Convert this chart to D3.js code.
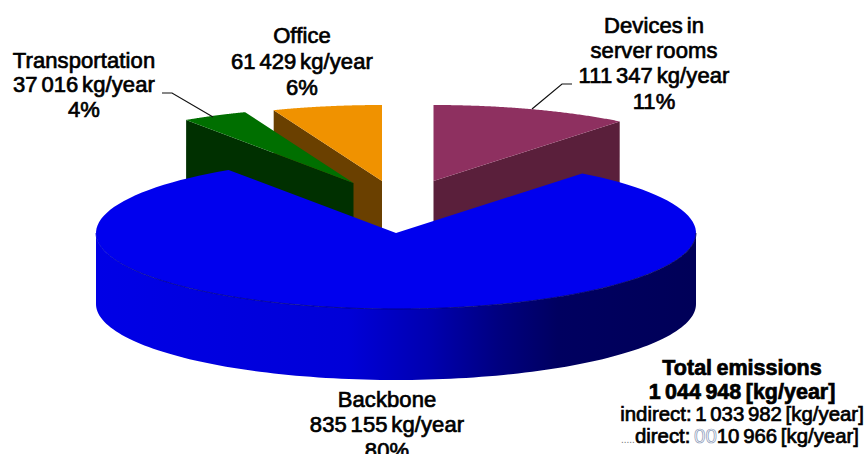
<!DOCTYPE html>
<html>
<head>
<meta charset="utf-8">
<script src="https://cdn.jsdelivr.net/npm/d3@7"></script>
<style>
  html, body { margin: 0; padding: 0; background: #fff; overflow: hidden; }
  svg { display: block; }
  text { font-family: "Liberation Sans", Arial, sans-serif; fill: #000; stroke: #000; stroke-width: 0.7px; text-anchor: middle; }
</style>
</head>
<body>
<svg id="chart" width="865" height="454"></svg>
<script>
// CO2 emissions per source, kg/year
const categories = ["Devices in server rooms", "Backbone", "Transportation", "Office"];
const emissions = [111347, 835155, 37016, 61429];
const shares = ["11%", "80%", "4%", "6%"];
const topColors = ["#8e3060", "#0000ee", "#006f00", "#f09200"];
const wallColors = ["#5a1f3b", "#0000d8", "#003000", "#6a4000"];

// Pull-out of each wedge from the pie centre, in pixels
const apexOffsets = [[37.5, -52], [0, 0], [-42.5, -50], [-14, -52]];

const svg = d3.select("#chart");
const cx = 396, cy = 233, rx = 300, ry = 76, depth = 71;

const pie = d3.pie().sort(null).value(d => d)(emissions);

// Scales that flatten unit-circle coordinates into the tilted pie plane
const sx = d3.scaleLinear().domain([-1, 1]).range([cx - rx, cx + rx]);
const sy = d3.scaleLinear().domain([-1, 1]).range([cy - ry, cy + ry]);

const rim = (a, i, h = 0) => [
  sx(Math.sin(a)) + apexOffsets[i][0],
  sy(-Math.cos(a)) + apexOffsets[i][1] + h
];
const apex = (i, h = 0) => [sx(0) + apexOffsets[i][0], sy(0) + apexOffsets[i][1] + h];
const arcPoints = (a0, a1, i, h) => d3.range(0, 121).map(k => rim(a0 + (a1 - a0) * k / 120, i, h));
const line = d3.line();

// Outer wall of the large wedge gets a horizontal light falloff
const defs = svg.append("defs");
const grad = defs.append("linearGradient")
  .attr("id", "wallShade").attr("gradientUnits", "userSpaceOnUse")
  .attr("x1", cx - rx).attr("x2", cx + rx).attr("y1", 0).attr("y2", 0);
[[0, "#0000e6"], [0.42, "#0000d8"], [0.555, "#0000b0"], [0.67, "#000080"], [0.77, "#000060"], [1, "#000058"]]
  .forEach(([o, c]) => grad.append("stop").attr("offset", o).attr("stop-color", c));

// Rim line fades out toward the left, lit side of the pie
const rimGrad = defs.append("linearGradient")
  .attr("id", "rimShade").attr("gradientUnits", "userSpaceOnUse")
  .attr("x1", cx - rx).attr("x2", cx + rx).attr("y1", 0).attr("y2", 0);
[[0, "#0000d8"], [0.08, "#000090"], [1, "#000050"]]
  .forEach(([o, c]) => rimGrad.append("stop").attr("offset", o).attr("stop-color", c));

// Back-to-front: small wedges first, the large wedge last
const order = [0, 3, 2, 1];
order.forEach(i => {
  const s = pie[i];
  const g = svg.append("g").attr("class", "wedge");
  if (i === 1) {
    // visible front wall runs from 90deg to 270deg
    const from = Math.max(s.startAngle, Math.PI / 2);
    const to = Math.min(s.endAngle, Math.PI * 1.5);
    const pts = arcPoints(from, to, i, 0).concat(arcPoints(to, from, i, depth));
    g.append("path").attr("d", line(pts) + "Z").attr("fill", "url(#wallShade)");
  } else {
    // radial wall facing the viewer
    const edge = i === 0 ? s.endAngle : s.startAngle;
    const pts = [apex(i), rim(edge, i), rim(edge, i, depth), apex(i, depth)];
    g.append("path").attr("d", line(pts) + "Z").attr("fill", wallColors[i]);
  }
  const face = [apex(i)].concat(arcPoints(s.startAngle, s.endAngle, i, 0));
  g.append("path").attr("d", line(face) + "Z").attr("fill", topColors[i]);
  if (i === 1) {
    const from = Math.max(s.startAngle, Math.PI / 2);
    const to = Math.min(s.endAngle, Math.PI * 1.5);
    g.append("path").attr("d", line(arcPoints(from, to, i, 0)))
      .attr("fill", "none").attr("stroke", "url(#rimShade)").attr("stroke-width", 0.8);
  }
});

// Leader lines
const leaders = [
  [[162, 93], [172, 93], [213, 117]],
  [[572, 84], [562, 84], [532, 109]]
];
leaders.forEach(p => svg.append("path").attr("d", line(p))
  .attr("fill", "none").attr("stroke", "#111").attr("stroke-width", 1.2));

// Labels
const labelRows = [
  { x: 84, y: [68, 92, 117], rows: ["Transportation", "37 016 kg/year", shares[2]] },
  { x: 302, y: [43, 69, 95], rows: ["Office", "61 429 kg/year", shares[3]] },
  { x: 654, y: [33, 58, 83, 109], rows: ["Devices in", "server rooms", "111 347 kg/year", shares[0]] },
  { x: 387, y: [407, 432, 458], rows: ["Backbone", "835 155 kg/year", shares[1]] }
];
labelRows.forEach(l => l.rows.forEach((t, k) => svg.append("text")
  .attr("x", l.x).attr("y", l.y[k]).attr("font-size", 22)
  .attr("letter-spacing", "0.1px").attr("word-spacing", "-2.5px").text(t)));

// Totals block in the lower right corner
const totals = [
  { y: 375, text: "Total emissions" },
  { y: 399, text: "1 044 948 [kg/year]" }
];
totals.forEach(l => svg.append("text")
  .attr("x", 742).attr("y", l.y).attr("font-size", 21.5).attr("font-weight", "bold")
  .attr("word-spacing", "-1.5px").text(l.text));

svg.append("text").attr("x", 742).attr("y", 421).attr("font-size", 20.4)
  .attr("word-spacing", "-2px").text("indirect: 1 033 982 [kg/year]");

// Direct row: dot leader and faint padding zeros keep the digits aligned with the row above
const direct = svg.append("text").attr("x", 740).attr("y", 443)
  .attr("font-size", 20.4).attr("word-spacing", "-2px");
direct.append("tspan").attr("font-size", 10).attr("fill", "#777").attr("stroke", "none").text(".....");
direct.append("tspan").text("direct: ");
direct.append("tspan").attr("style", "fill:#fff;stroke:#8a9ab8;stroke-width:0.7px").text("00");
direct.append("tspan").text("10 966 [kg/year]");
</script>
</body>
</html>
